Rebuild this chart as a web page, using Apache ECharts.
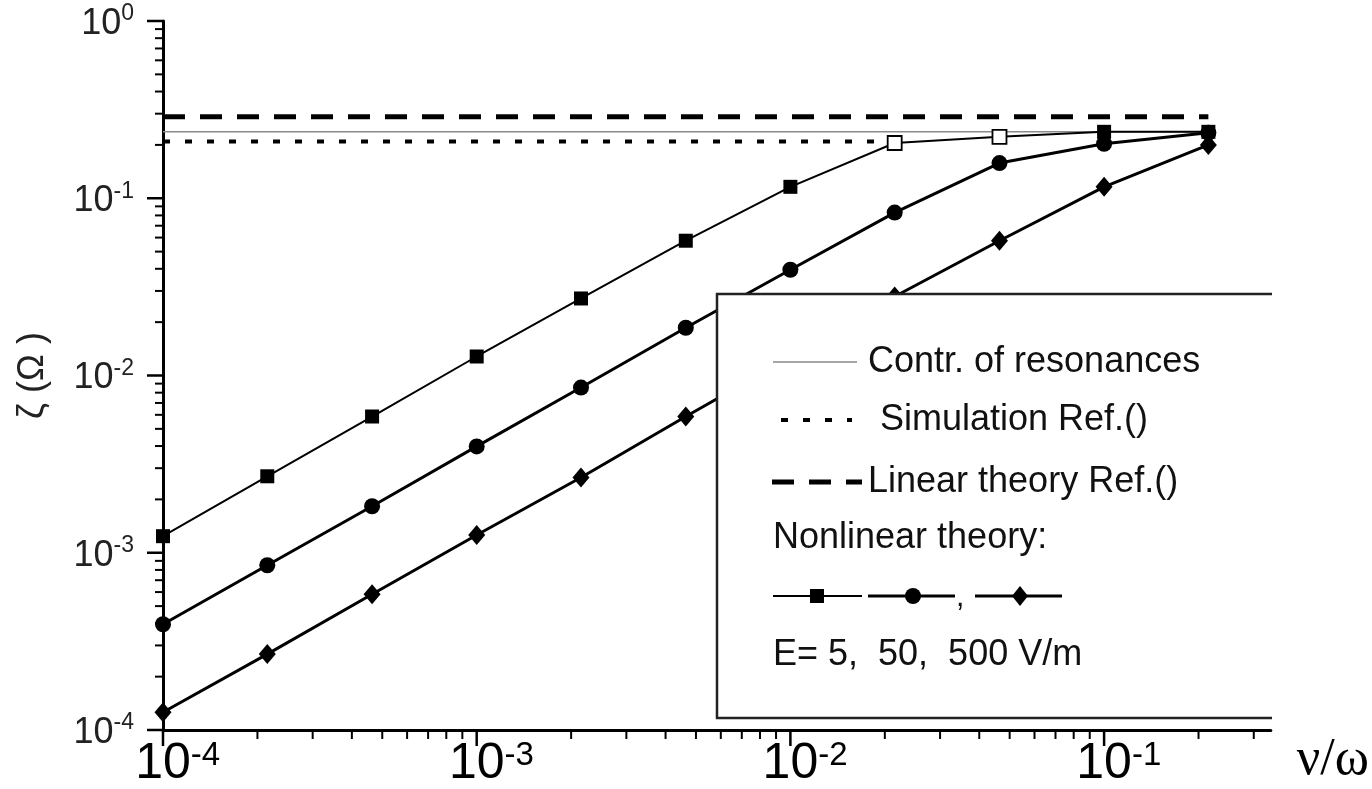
<!DOCTYPE html>
<html><head><meta charset="utf-8">
<script src="https://cdn.jsdelivr.net/npm/echarts@6/dist/echarts.min.js"></script>
<style>html,body{margin:0;padding:0;background:#fff}#c{width:1372px;height:789px}</style>
</head><body><div id="c"></div>
<script>
// ---- data ----
const nuOverOmega = [1e-4, 2.15e-4, 4.64e-4, 1e-3, 2.15e-3, 4.64e-3, 1e-2, 2.15e-2, 4.64e-2, 0.1, 0.215];
const zetaE5   = [1.24e-3, 2.7e-3, 5.87e-3, 0.0128, 0.0272, 0.0576, 0.116, 0.205, 0.222, 0.237, 0.237];
const openPointsE5 = [7, 8];
const zetaE50  = [3.95e-4, 8.5e-4, 1.83e-3, 3.98e-3, 8.55e-3, 0.0186, 0.0395, 0.083, 0.158, 0.203, 0.234];
const zetaE500 = [1.26e-4, 2.68e-4, 5.83e-4, 1.26e-3, 2.66e-3, 5.87e-3, 0.0127, 0.0279, 0.0576, 0.116, 0.2];
const resonanceX = [1e-4, 0.215];   const resonanceY = [0.237, 0.237];
const simulationX = [1e-4, 0.0215]; const simulationY = [0.209, 0.209];
const linearX = [1e-4, 0.215];      const linearY = [0.288, 0.288];
const xTickExponents = [-4, -3, -2, -1];
const yTickExponents = [-4, -3, -2, -1, 0];
const xRange = [1e-4, 0.34];
const yRange = [1e-4, 1];
const legendTexts = ['Contr. of resonances', 'Simulation Ref.()', 'Linear theory Ref.()', 'Nonlinear theory:', 'E= 5,  50,  500 V/m'];

// ---- build ----
const pairs = (xs, ys) => xs.map((x, i) => [x, ys[i]]);
function minorTicks(exps, maxV) {
  const out = [];
  exps.forEach(e => {
    out.push([Math.pow(10, e), 1]);
    for (let m = 2; m <= 9; m++) { const v = m * Math.pow(10, e); if (v <= maxV * 1.0001) out.push([v, 0]); }
  });
  return out;
}
const xTicks = minorTicks(xTickExponents, xRange[1]);
const yTicks = minorTicks(yTickExponents.slice(0, -1), yRange[1]);
yTicks.push([1, 1]);

function expLabel(v, spacer) {
  const l = Math.log10(v); const e = Math.round(l);
  if (Math.abs(l - e) > 1e-6) return '';
  return (spacer ? '{h|' + e + '}' : '') + '{b|10}{s|' + e + '}';
}

const chart = echarts.init(document.getElementById('c'), null, {renderer: 'canvas'});
const FONT = '"Liberation Sans", Arial, sans-serif';
const e5data = pairs(nuOverOmega, zetaE5).map((p, i) => openPointsE5.includes(i)
  ? {value: p, itemStyle: {color: '#fff', borderColor: '#000', borderWidth: 1.8}} : p);

const legendFont = '36px ' + FONT;
const LX = 717, LY = 294, LR = 1272, LB = 718;
const rows = [362, 420, 482, 538, 596, 655];

chart.setOption({
  animation: false,
  backgroundColor: '#fff',
  grid: {left: 163, right: 100, top: 21, bottom: 58},
  xAxis: {
    type: 'log', logBase: 10, min: xRange[0], max: xRange[1],
    name: 'ν/ω', nameLocation: 'end', nameGap: 26,
    nameTextStyle: {fontFamily: '"Liberation Serif", "DejaVu Serif", serif', fontSize: 52, color: '#000', verticalAlign: 'top', padding: [4, 0, 0, 0]},
    axisLine: {onZero: false, lineStyle: {color: '#000', width: 3}},
    axisTick: {show: false}, minorTick: {show: false}, splitLine: {show: false},
    axisLabel: {
      margin: 9, formatter: v => expLabel(v, true),
      rich: {
        b: {fontFamily: FONT, fontSize: 50, lineHeight: 50, color: '#000'},
        s: {fontFamily: FONT, fontSize: 33, color: '#000', verticalAlign: 'top'},
        h: {fontFamily: FONT, fontSize: 33, color: 'rgba(0,0,0,0)', verticalAlign: 'top'}
      }
    }
  },
  yAxis: {
    type: 'log', logBase: 10, min: yRange[0], max: yRange[1],
    name: 'ζ (Ω )', nameLocation: 'middle', nameRotate: 90, nameGap: 112,
    nameTextStyle: {fontFamily: FONT, fontSize: 36, color: '#222'},
    axisLine: {onZero: false, lineStyle: {color: '#000', width: 3}},
    axisTick: {show: false}, minorTick: {show: false}, splitLine: {show: false},
    axisLabel: {
      margin: 29, formatter: v => expLabel(v, false),
      rich: {
        b: {fontFamily: FONT, fontSize: 36, lineHeight: 37, color: '#222', padding: [6, 0, 0, 0]},
        s: {fontFamily: FONT, fontSize: 23, color: '#222', verticalAlign: 'top'}
      }
    }
  },
  graphic: {elements: [
    {type: 'rect', z: 100, shape: {x: LX, y: LY, width: LR - LX, height: LB - LY}, style: {fill: '#fff'}},
    {type: 'polyline', z: 101, shape: {points: [[LR, LY], [LX, LY], [LX, LB], [LR, LB]]}, style: {stroke: '#222', lineWidth: 2.5, fill: null}},
    {type: 'line', z: 101, shape: {x1: 773, y1: rows[0], x2: 857, y2: rows[0]}, style: {stroke: '#888', lineWidth: 1.5}},
    {type: 'text', z: 101, style: {text: legendTexts[0], x: 868, y: rows[0], font: legendFont, fill: '#111', verticalAlign: 'middle'}},
    {type: 'line', z: 101, shape: {x1: 781, y1: rows[1], x2: 852, y2: rows[1]}, style: {stroke: '#000', lineWidth: 4, lineDash: [7, 15]}},
    {type: 'text', z: 101, style: {text: legendTexts[1], x: 880, y: rows[1], font: legendFont, fill: '#111', verticalAlign: 'middle'}},
    {type: 'line', z: 101, shape: {x1: 772, y1: rows[2], x2: 862, y2: rows[2]}, style: {stroke: '#000', lineWidth: 5, lineDash: [22, 15]}},
    {type: 'text', z: 101, style: {text: legendTexts[2], x: 868, y: rows[2], font: legendFont, fill: '#111', verticalAlign: 'middle'}},
    {type: 'text', z: 101, style: {text: legendTexts[3], x: 773, y: rows[3], font: legendFont, fill: '#111', verticalAlign: 'middle'}},
    {type: 'line', z: 101, shape: {x1: 773, y1: rows[4], x2: 862, y2: rows[4]}, style: {stroke: '#000', lineWidth: 2}},
    {type: 'rect', z: 102, shape: {x: 810, y: rows[4] - 7, width: 14, height: 14}, style: {fill: '#000'}},
    {type: 'line', z: 101, shape: {x1: 868, y1: rows[4], x2: 955, y2: rows[4]}, style: {stroke: '#000', lineWidth: 3}},
    {type: 'circle', z: 102, shape: {cx: 913, cy: rows[4], r: 8}, style: {fill: '#000'}},
    {type: 'text', z: 101, style: {text: ',', x: 956, y: rows[4] + 2, font: '30px ' + FONT, fill: '#111', verticalAlign: 'middle'}},
    {type: 'line', z: 101, shape: {x1: 975, y1: rows[4], x2: 1062, y2: rows[4]}, style: {stroke: '#000', lineWidth: 3}},
    {type: 'polygon', z: 102, shape: {points: [[1020, rows[4] - 10], [1028, rows[4]], [1020, rows[4] + 10], [1012, rows[4]]]}, style: {fill: '#000'}},
    {type: 'text', z: 101, style: {text: legendTexts[4], x: 773, y: rows[5], font: legendFont, fill: '#111', verticalAlign: 'middle'}}
  ]},
  series: [
    {type: 'custom', name: 'xticks', silent: true, clip: false, data: xTicks, encode: {x: 0},
      renderItem: (p, api) => {
        const pt = api.coord([api.value(0), yRange[0]]); const major = api.value(1) === 1;
        return {type: 'line', shape: {x1: pt[0], y1: pt[1], x2: pt[0], y2: pt[1] + (major ? 16 : 9)}, style: {stroke: '#000', lineWidth: major ? 2.5 : 2}};
      }},
    {type: 'custom', name: 'yticks', silent: true, clip: false, data: yTicks.map(t => [xRange[0], t[0], t[1]]), encode: {x: 0, y: 1},
      renderItem: (p, api) => {
        const pt = api.coord([xRange[0], api.value(1)]); const major = api.value(2) === 1;
        return {type: 'line', shape: {x1: pt[0], y1: pt[1], x2: pt[0] - (major ? 16 : 8), y2: pt[1]}, style: {stroke: '#000', lineWidth: major ? 2.5 : 2}};
      }},
    {type: 'line', name: 'Contr. of resonances', data: pairs(resonanceX, resonanceY), showSymbol: false, symbol: 'none', lineStyle: {color: '#8a8a8a', width: 1.5}},
    {type: 'line', name: 'Simulation', data: pairs(simulationX, simulationY), symbol: 'none', lineStyle: {color: '#000', width: 4, type: [7, 15]}},
    {type: 'line', name: 'Linear theory', data: pairs(linearX, linearY), symbol: 'none', lineStyle: {color: '#000', width: 5, type: [22, 15]}},
    {type: 'line', name: 'E=5', data: e5data, symbol: 'rect', symbolSize: 14, lineStyle: {color: '#000', width: 2}, itemStyle: {color: '#000'}},
    {type: 'line', name: 'E=50', data: pairs(nuOverOmega, zetaE50), symbol: 'circle', symbolSize: 16, lineStyle: {color: '#000', width: 3}, itemStyle: {color: '#000'}},
    {type: 'line', name: 'E=500', data: pairs(nuOverOmega, zetaE500), symbol: 'diamond', symbolSize: [17, 20], lineStyle: {color: '#000', width: 3}, itemStyle: {color: '#000'}}
  ]
});
</script></body></html>
